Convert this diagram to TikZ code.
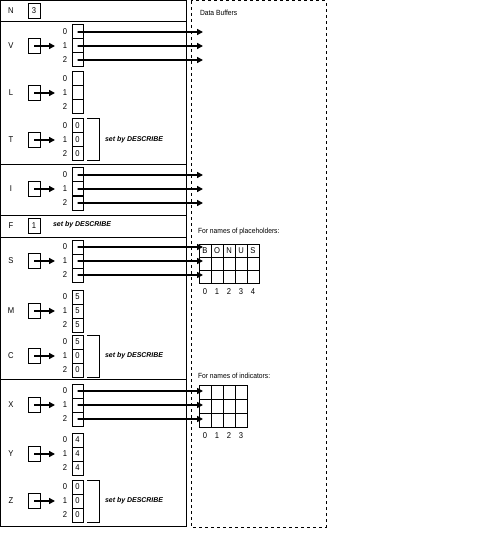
\documentclass[tikz,border=0pt]{standalone}
\usepackage{fontspec}
\setmainfont{Liberation Sans}[FakeStretch=0.9]
\newfontfamily\descfont{Liberation Sans}
\usetikzlibrary{arrows.meta}
\newcommand\mkarr[4]{%
  \node (#1lbl) at (11,#2+21) {#3};
  \node[ptrbox] (#1ptr) at (34,#2+21) {};
  \coordinate (#1pe) at (55,#2+21);
  \foreach \v [count=\i from 0] in {#4} {
    \node[cellbox] (#1c\i) at (72,#2+14*\i) {\v};
    \node (#1i\i) at (65,#2+7+14*\i) {\i};
  }
  \draw[parr] (#1ptr.center) -- (#1pe);
}
\newcommand\mkbracket[1]{%
  \draw[thinln] (87,#1) -- (99,#1) -- (99,#1+42) -- (87,#1+42);
  \node[desc] at (105,#1+21) {set by DESCRIBE};
}
\begin{document}
\begin{tikzpicture}[x=1bp,y=-1bp,
  every node/.style={inner sep=0pt, outer sep=0pt, font=\fontsize{8.5}{10}\selectfont},
  sent/.style={anchor=west, font=\fontsize{7.5}{9}\selectfont},
  thinln/.style={line width=1bp},
  cellbox/.style={draw, line width=1bp, minimum width=11bp, minimum height=14bp, anchor=north west},
  ptrbox/.style={draw, line width=1bp, minimum width=12bp, minimum height=15bp},
  gcell/.style={draw, line width=1bp, minimum width=12bp, anchor=north west},
  desc/.style={anchor=west, font=\descfont\bfseries\itshape\fontsize{7}{9}\selectfont},
  parr/.style={line width=1.7bp, -{Triangle[length=6bp,width=6bp]}},
  bufbox/.style={line width=1bp, dash pattern=on 3bp off 3bp}
]
\useasboundingbox (0,0) rectangle (496,544);
% left panel
\draw[line width=1bp] (0.5,0.5) rectangle (186.5,526);
\foreach \y in {22,165,215,237,379} \draw[line width=1bp] (0.5,\y) -- (186.5,\y);
% dashed data buffer area
\draw[bufbox] (191,1) rectangle (326,527);
\node[sent] (db) at (200,13) {Data Buffers};
% N
\node (Nlbl) at (11,11) {N};
\node[ptrbox] (Nbox) at (34,11) {3};
% arrays
\mkarr{V}{25}{V}{\relax,\relax,\relax}
\mkarr{L}{72}{L}{\relax,\relax,\relax}
\mkarr{T}{119}{T}{0,0,0}
\mkbracket{119}
\mkarr{I}{168}{I}{\relax,\relax,\relax}
% F
\node (Flbl) at (11,226) {F};
\node[ptrbox] (Fbox) at (34,226) {1};
\node[desc] (Fdesc) at (53,225) {set by DESCRIBE};
\mkarr{S}{240}{S}{\relax,\relax,\relax}
\mkarr{M}{290}{M}{5,5,5}
\mkarr{C}{335}{C}{5,0,0}
\mkbracket{335}
\mkarr{X}{384}{X}{\relax,\relax,\relax}
\mkarr{Y}{433}{Y}{4,4,4}
\mkarr{Z}{480}{Z}{0,0,0}
\mkbracket{480}
% placeholder grid
\node[sent] (phtxt) at (198,232) {For names of placeholders:};
\foreach \c/\t in {0/B,1/O,2/N,3/U,4/S} {
  \node[gcell, minimum height=13bp] (ph0\c) at (199+12*\c,244) {\t};
  \node[gcell, minimum height=13bp] (ph1\c) at (199+12*\c,257) {};
  \node[gcell, minimum height=13bp] (ph2\c) at (199+12*\c,270) {};
  \node (phn\c) at (205+12*\c,292) {\c};
}
% indicator grid
\node[sent] (intxt) at (198,376) {For names of indicators:};
\foreach \c in {0,1,2,3} {
  \foreach \r in {0,1,2} {
    \node[gcell, minimum height=14bp] (in\r\c) at (199+12*\c,385+14*\r) {};
  }
  \node (inn\c) at (205+12*\c,436) {\c};
}
% pointers to buffers
\foreach \a/\t in {V/25,I/168,S/240,X/384} {
  \foreach \i in {0,1,2} {
    \coordinate (\a b\i) at (203,\t+7+14*\i);
    \draw[parr] (\a c\i.center) -- (\a b\i);
  }
}
\end{tikzpicture}
\end{document}
